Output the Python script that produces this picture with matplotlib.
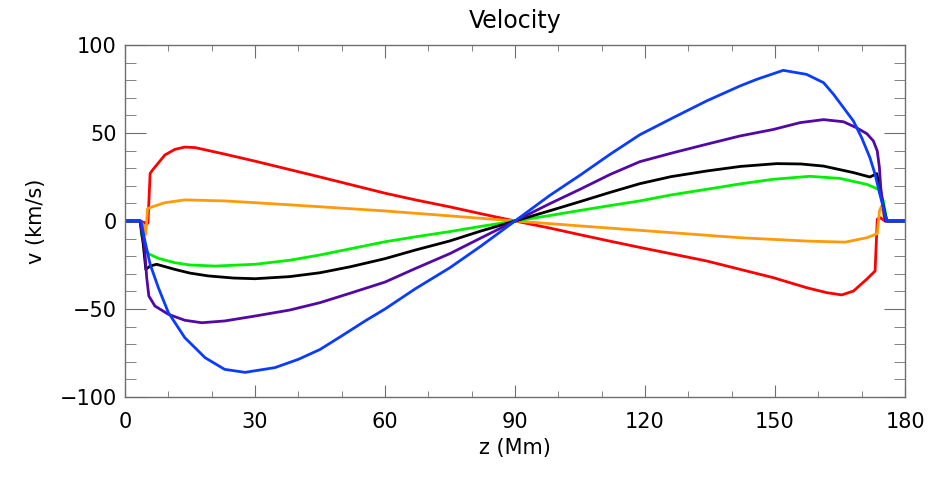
import matplotlib
matplotlib.use('Agg')
import matplotlib.pyplot as plt
from matplotlib.ticker import MultipleLocator

# values, z in Mm, v in km/s
z_red = [0, 3.5, 4.5, 5.0, 5.3, 5.8, 6.3, 7.7, 9.2, 11.5, 13.8, 16.2, 23, 30, 45, 60, 67, 75, 82, 90,
         98, 105, 112, 118.8, 134.2, 149.6, 157.3, 161.9, 165.4, 168.1, 171.2, 173.1, 173.6, 174.2, 175.4, 180]
v_red = [0, 0, -1, -2, -1, 27, 28.8, 33, 37.5, 40.7, 42, 41.7, 38, 34, 25, 15.8, 12, 8, 4.2, 0,
         -4, -7.8, -11.5, -15, -22.7, -32.2, -37.9, -40.7, -42, -39.8, -33, -28.4, 1, 2, 0, 0]

z_orange = [0, 3.5, 4.4, 4.8, 5.2, 6.2, 9.2, 13.8, 23, 30, 45, 60, 75, 90,
            105, 118.8, 141.9, 157.3, 166.2, 171.2, 173.6, 174.1, 174.6, 175.4, 180]
v_orange = [0, 0, -3, -7.6, 7, 8, 10.4, 12, 11.4, 10.4, 8.1, 5.7, 2.9, 0,
            -2.8, -5.3, -9.5, -11.4, -12, -9.5, -7.2, 5.7, 8.5, 0, 0]

z_green = [0, 3.5, 3.8, 4.6, 5.4, 7.7, 11.5, 15, 20.8, 30, 38, 45, 52, 60, 67, 75, 82, 90,
           98, 105, 112, 118.8, 126, 134.2, 142, 149.6, 158, 165, 171.2, 173.9, 175, 175.8, 180]
v_green = [0, 0, -7.6, -15, -18.6, -21.2, -23.7, -25, -25.6, -24.6, -22.3, -19.3, -15.8, -11.8, -9, -6, -3.1, 0,
           3.1, 6, 8.8, 11.4, 14.8, 18, 21.1, 23.7, 25.4, 24.2, 20.8, 18, 11.4, 0, 0]

z_black = [0, 3.5, 4.2, 4.8, 5.8, 7.3, 11.5, 15, 19.2, 25, 30, 38, 45, 52, 60, 67, 75, 82, 90,
           98, 105, 112, 118.8, 126, 134.2, 142, 150.4, 156, 161.2, 168.1, 171.9, 173.5, 174.6, 175.8, 180]
v_black = [0, 0, -13, -27.5, -25.6, -24.6, -27.5, -29.6, -31.2, -32.4, -32.8, -31.6, -29.4, -26, -21.4, -16.5, -11.3, -5.8, 0,
           5.8, 11, 16.3, 21.2, 25.2, 28.4, 31, 32.6, 32.4, 31.2, 27.5, 25, 26.9, 13, 0, 0]

z_purple = [0, 3.5, 4.5, 5.0, 5.5, 6.9, 10, 13.8, 17.7, 23, 30, 38, 45, 52, 60, 67, 75, 82, 90,
            98, 105, 112, 118.8, 126.5, 134.2, 141.9, 149.6, 155.8, 161.2, 165.8, 168.8, 171.2, 172.7,
            173.6, 174.1, 174.4, 175.4, 180]
v_purple = [0, 0, -15, -32, -42.6, -48.3, -53, -56.4, -57.8, -56.8, -54, -50.6, -46.4, -41, -34.7, -27, -18.5, -9.8, 0,
            9.8, 18, 26.5, 33.7, 38.8, 43.6, 48.3, 52, 55.9, 57.6, 56.4, 53, 49.6, 45.5,
            39.8, 30.3, 19, 0, 0]

z_blue = [0, 3.7, 4.6, 5.8, 7.7, 10, 13.8, 18.5, 23, 27.7, 34.6, 40, 45, 50, 55.4, 60, 67, 75, 82, 90,
          98, 105, 112, 118.8, 126.5, 134.2, 141.9, 145.8, 151.9, 157.3, 161.2, 163.5, 165.8,
          168.1, 170, 171.9, 173.1, 174.2, 175.8, 180]
v_blue = [0, 0, -11.4, -24.6, -37.9, -52, -66.3, -77.7, -84.3, -86, -83.3, -78.6, -73, -65.3, -56.8, -50, -38.5, -26.5, -14.5, 0,
          14.5, 26, 38, 49, 58.7, 68.2, 76.7, 80.5, 85.6, 83.3, 78.6, 72, 64.4,
          56.8, 47.3, 36, 26.5, 15.2, 0, 0]

series = [
    (z_red, v_red, '#ff0000'),
    (z_orange, v_orange, '#ff9a0a'),
    (z_green, v_green, '#00f000'),
    (z_black, v_black, '#000000'),
    (z_purple, v_purple, '#5208a6'),
    (z_blue, v_blue, '#0a3cff'),
]

plt.rcParams['font.family'] = ['DejaVu Sans']

fig = plt.figure(figsize=(9.4, 4.78), dpi=100)
ax = fig.add_axes([125 / 940, 1 - 397 / 478, 780 / 940, 352 / 478])

for z, v, c in series:
    ax.plot(z, v, color=c, lw=2.0, solid_joinstyle='round')

ax.set_xlim(0, 180)
ax.set_ylim(-100, 100)
ax.xaxis.set_major_locator(MultipleLocator(30))
ax.xaxis.set_minor_locator(MultipleLocator(10))
ax.yaxis.set_major_locator(MultipleLocator(50))
ax.yaxis.set_minor_locator(MultipleLocator(10))

axis_col = '#6e6e6e'
for s in ax.spines.values():
    s.set_color(axis_col)
    s.set_linewidth(1.0)
ax.tick_params(axis='both', which='both', direction='in', top=True, right=True,
               color=axis_col, labelsize=15, labelcolor='black')
ax.tick_params(axis='x', which='major', length=9, pad=11)
ax.tick_params(axis='x', which='minor', length=4)
ax.tick_params(axis='y', which='major', length=15, pad=6)
ax.tick_params(axis='y', which='minor', length=8)

ax.set_xlabel('z (Mm)', fontsize=15, labelpad=4)
ax.set_ylabel('v (km/s)', fontsize=15, labelpad=10)
ax.set_title('Velocity', fontsize=17, pad=12)

fig.savefig('out.png', dpi=100)
